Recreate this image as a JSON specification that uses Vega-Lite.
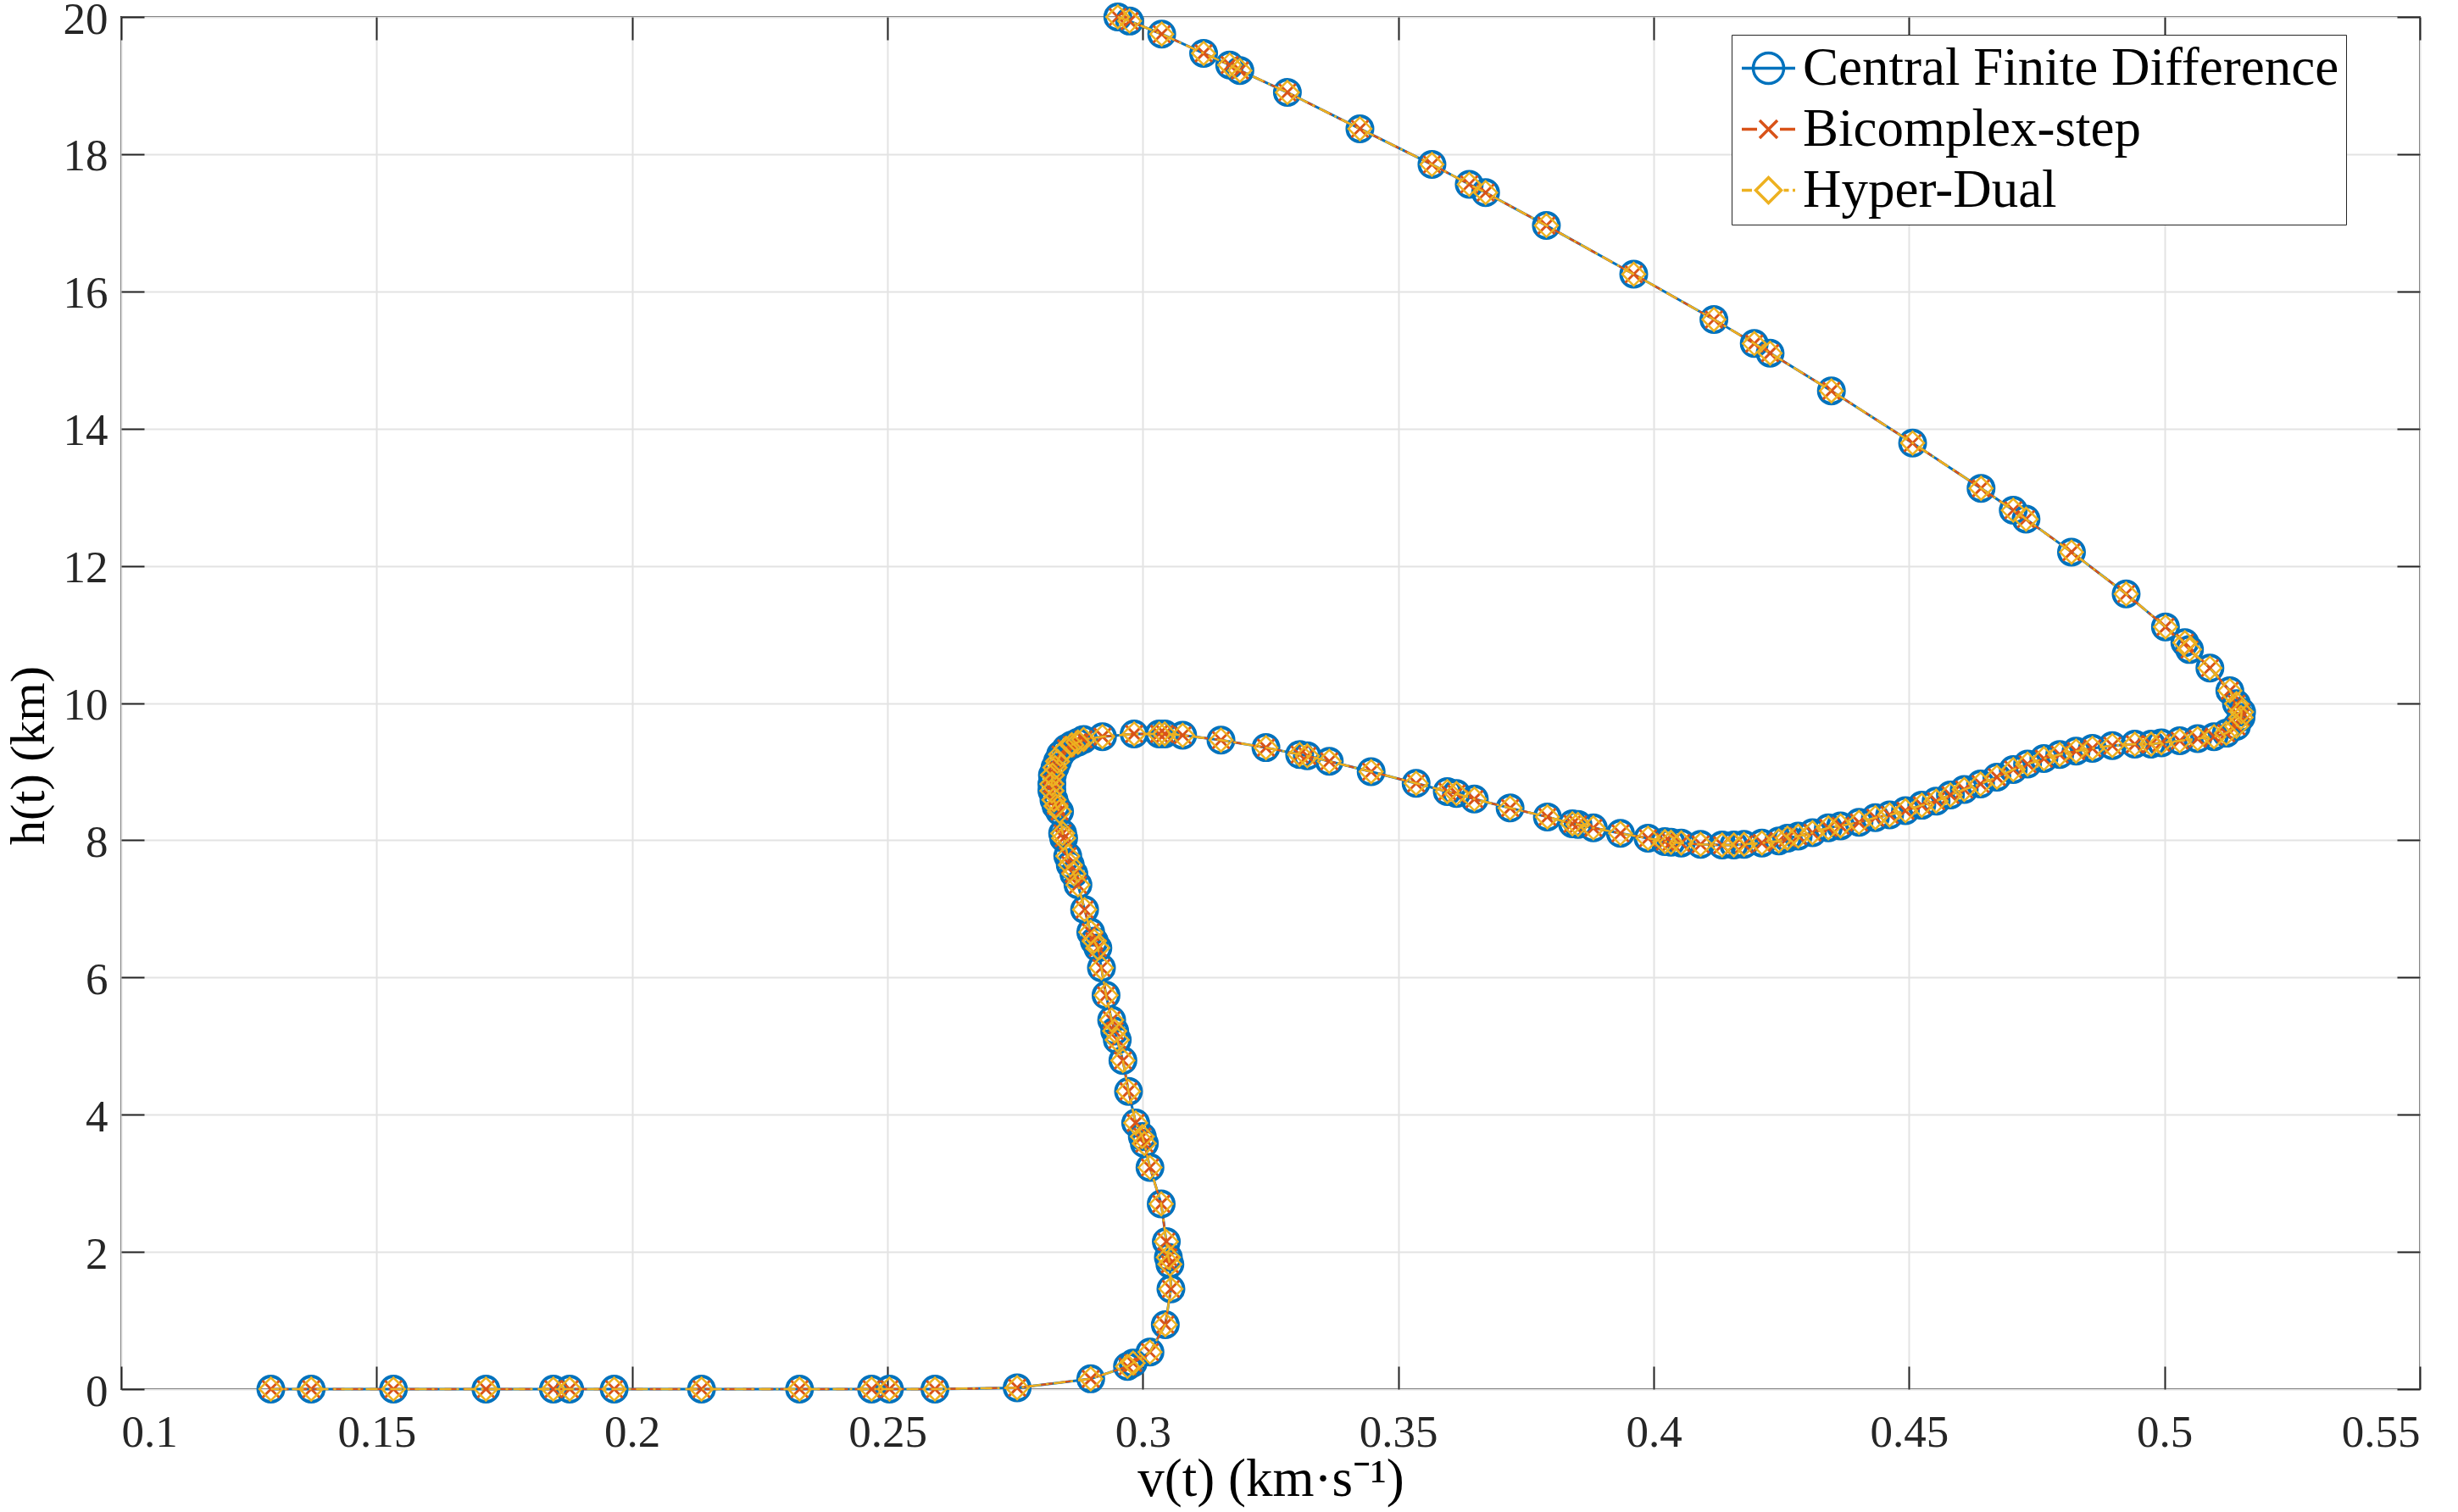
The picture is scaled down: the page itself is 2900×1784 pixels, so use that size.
{
  "$schema": "https://vega.github.io/schema/vega-lite/v6.json",
  "width": 2712,
  "height": 1619,
  "autosize": {"type": "none"},
  "padding": {"left": 143, "top": 20, "right": 45, "bottom": 145},
  "background": "white",
  "data": {
    "values": [
      {"i": 1, "v": 0.2951, "h": 20.0},
      {"i": 2, "v": 0.2974, "h": 19.94},
      {"i": 3, "v": 0.3037, "h": 19.75},
      {"i": 4, "v": 0.3119, "h": 19.47},
      {"i": 5, "v": 0.317, "h": 19.3},
      {"i": 6, "v": 0.319, "h": 19.22},
      {"i": 7, "v": 0.3283, "h": 18.9},
      {"i": 8, "v": 0.3425, "h": 18.37},
      {"i": 9, "v": 0.3566, "h": 17.85},
      {"i": 10, "v": 0.3639, "h": 17.56},
      {"i": 11, "v": 0.3671, "h": 17.44},
      {"i": 12, "v": 0.379, "h": 16.96},
      {"i": 13, "v": 0.3961, "h": 16.25},
      {"i": 14, "v": 0.4118, "h": 15.59},
      {"i": 15, "v": 0.4197, "h": 15.24},
      {"i": 16, "v": 0.4228, "h": 15.1},
      {"i": 17, "v": 0.4348, "h": 14.55},
      {"i": 18, "v": 0.4507, "h": 13.79},
      {"i": 19, "v": 0.4641, "h": 13.13},
      {"i": 20, "v": 0.4704, "h": 12.81},
      {"i": 21, "v": 0.4729, "h": 12.68},
      {"i": 22, "v": 0.4818, "h": 12.2},
      {"i": 23, "v": 0.4925, "h": 11.59},
      {"i": 24, "v": 0.5002, "h": 11.11},
      {"i": 25, "v": 0.504, "h": 10.88},
      {"i": 26, "v": 0.5049, "h": 10.78},
      {"i": 27, "v": 0.5089, "h": 10.51},
      {"i": 28, "v": 0.5128, "h": 10.18},
      {"i": 29, "v": 0.5141, "h": 9.99},
      {"i": 30, "v": 0.5151, "h": 9.87},
      {"i": 31, "v": 0.515, "h": 9.79},
      {"i": 32, "v": 0.5141, "h": 9.66},
      {"i": 33, "v": 0.5121, "h": 9.56},
      {"i": 34, "v": 0.5097, "h": 9.51},
      {"i": 35, "v": 0.5065, "h": 9.48},
      {"i": 36, "v": 0.503, "h": 9.45},
      {"i": 37, "v": 0.4994, "h": 9.42},
      {"i": 38, "v": 0.4974, "h": 9.4},
      {"i": 39, "v": 0.4942, "h": 9.4},
      {"i": 40, "v": 0.4898, "h": 9.38},
      {"i": 41, "v": 0.4859, "h": 9.34},
      {"i": 42, "v": 0.4827, "h": 9.3},
      {"i": 43, "v": 0.4795, "h": 9.25},
      {"i": 44, "v": 0.4764, "h": 9.19},
      {"i": 45, "v": 0.4732, "h": 9.11},
      {"i": 46, "v": 0.4704, "h": 9.03},
      {"i": 47, "v": 0.4672, "h": 8.92},
      {"i": 48, "v": 0.464, "h": 8.82},
      {"i": 49, "v": 0.4608, "h": 8.74},
      {"i": 50, "v": 0.4581, "h": 8.66},
      {"i": 51, "v": 0.4553, "h": 8.57},
      {"i": 52, "v": 0.4525, "h": 8.51},
      {"i": 53, "v": 0.4493, "h": 8.43},
      {"i": 54, "v": 0.4462, "h": 8.37},
      {"i": 55, "v": 0.4434, "h": 8.33},
      {"i": 56, "v": 0.4402, "h": 8.26},
      {"i": 57, "v": 0.4366, "h": 8.21},
      {"i": 58, "v": 0.4342, "h": 8.18},
      {"i": 59, "v": 0.4311, "h": 8.11},
      {"i": 60, "v": 0.4283, "h": 8.06},
      {"i": 61, "v": 0.4262, "h": 8.03},
      {"i": 62, "v": 0.4245, "h": 7.99},
      {"i": 63, "v": 0.4212, "h": 7.96},
      {"i": 64, "v": 0.4177, "h": 7.94},
      {"i": 65, "v": 0.4157, "h": 7.93},
      {"i": 66, "v": 0.4134, "h": 7.93},
      {"i": 67, "v": 0.4092, "h": 7.94},
      {"i": 68, "v": 0.4054, "h": 7.96},
      {"i": 69, "v": 0.4034, "h": 7.97},
      {"i": 70, "v": 0.4022, "h": 7.98},
      {"i": 71, "v": 0.3989, "h": 8.03},
      {"i": 72, "v": 0.3935, "h": 8.1},
      {"i": 73, "v": 0.3882, "h": 8.18},
      {"i": 74, "v": 0.3852, "h": 8.23},
      {"i": 75, "v": 0.3841, "h": 8.24},
      {"i": 76, "v": 0.3792, "h": 8.34},
      {"i": 77, "v": 0.3719, "h": 8.47},
      {"i": 78, "v": 0.3649, "h": 8.6},
      {"i": 79, "v": 0.3614, "h": 8.68},
      {"i": 80, "v": 0.3596, "h": 8.71},
      {"i": 81, "v": 0.3535, "h": 8.83},
      {"i": 82, "v": 0.3447, "h": 9.0},
      {"i": 83, "v": 0.3365, "h": 9.15},
      {"i": 84, "v": 0.3322, "h": 9.23},
      {"i": 85, "v": 0.3307, "h": 9.25},
      {"i": 86, "v": 0.3241, "h": 9.35},
      {"i": 87, "v": 0.3153, "h": 9.46},
      {"i": 88, "v": 0.3078, "h": 9.53},
      {"i": 89, "v": 0.3043, "h": 9.55},
      {"i": 90, "v": 0.3032, "h": 9.55},
      {"i": 91, "v": 0.2983, "h": 9.55},
      {"i": 92, "v": 0.2921, "h": 9.51},
      {"i": 93, "v": 0.2884, "h": 9.47},
      {"i": 94, "v": 0.2873, "h": 9.43},
      {"i": 95, "v": 0.2861, "h": 9.39},
      {"i": 96, "v": 0.285, "h": 9.34},
      {"i": 97, "v": 0.2839, "h": 9.25},
      {"i": 98, "v": 0.2833, "h": 9.15},
      {"i": 99, "v": 0.2828, "h": 9.06},
      {"i": 100, "v": 0.2823, "h": 8.95},
      {"i": 101, "v": 0.2822, "h": 8.82},
      {"i": 102, "v": 0.2822, "h": 8.72},
      {"i": 103, "v": 0.2826, "h": 8.59},
      {"i": 104, "v": 0.283, "h": 8.5},
      {"i": 105, "v": 0.2837, "h": 8.42},
      {"i": 106, "v": 0.2843, "h": 8.1},
      {"i": 107, "v": 0.2845, "h": 8.03},
      {"i": 108, "v": 0.2853, "h": 7.77},
      {"i": 109, "v": 0.2858, "h": 7.64},
      {"i": 110, "v": 0.2865, "h": 7.51},
      {"i": 111, "v": 0.2873, "h": 7.35},
      {"i": 112, "v": 0.2886, "h": 6.99},
      {"i": 113, "v": 0.2898, "h": 6.66},
      {"i": 114, "v": 0.2905, "h": 6.53},
      {"i": 115, "v": 0.2912, "h": 6.43},
      {"i": 116, "v": 0.2919, "h": 6.14},
      {"i": 117, "v": 0.2928, "h": 5.74},
      {"i": 118, "v": 0.2939, "h": 5.38},
      {"i": 119, "v": 0.2945, "h": 5.22},
      {"i": 120, "v": 0.295, "h": 5.09},
      {"i": 121, "v": 0.2961, "h": 4.79},
      {"i": 122, "v": 0.2972, "h": 4.34},
      {"i": 123, "v": 0.2986, "h": 3.88},
      {"i": 124, "v": 0.2999, "h": 3.68},
      {"i": 125, "v": 0.3003, "h": 3.58},
      {"i": 126, "v": 0.3014, "h": 3.23},
      {"i": 127, "v": 0.3036, "h": 2.7},
      {"i": 128, "v": 0.3046, "h": 2.15},
      {"i": 129, "v": 0.305, "h": 1.92},
      {"i": 130, "v": 0.3053, "h": 1.82},
      {"i": 131, "v": 0.3055, "h": 1.46},
      {"i": 132, "v": 0.3044, "h": 0.94},
      {"i": 133, "v": 0.3014, "h": 0.54},
      {"i": 134, "v": 0.2981, "h": 0.38},
      {"i": 135, "v": 0.297, "h": 0.33},
      {"i": 136, "v": 0.2898, "h": 0.15},
      {"i": 137, "v": 0.2754, "h": 0.02},
      {"i": 138, "v": 0.2593, "h": 0.0},
      {"i": 139, "v": 0.2504, "h": 0.0},
      {"i": 140, "v": 0.2469, "h": 0.0},
      {"i": 141, "v": 0.2328, "h": 0.0},
      {"i": 142, "v": 0.2136, "h": 0.0},
      {"i": 143, "v": 0.1965, "h": 0.0},
      {"i": 144, "v": 0.1878, "h": 0.0},
      {"i": 145, "v": 0.1846, "h": 0.0},
      {"i": 146, "v": 0.1714, "h": 0.0},
      {"i": 147, "v": 0.1533, "h": 0.0},
      {"i": 148, "v": 0.1372, "h": 0.0},
      {"i": 149, "v": 0.1293, "h": 0.0}
    ]
  },
  "layer": [
    {
      "mark": {"type": "line", "color": "#0072BD", "strokeWidth": 3},
      "encoding": {
        "x": {
          "field": "v", "type": "quantitative",
          "scale": {"domain": [0.1, 0.55], "nice": false, "zero": false},
          "axis": {
            "orient": "bottom",
            "values": [0.1, 0.15, 0.2, 0.25, 0.3, 0.35, 0.4, 0.45, 0.5, 0.55],
            "format": "~g",
            "title": "v(t)  (km·s⁻¹)",
            "labelFont": "Liberation Serif",
            "labelFontSize": 53,
            "labelPadding": 52,
            "titleFont": "Liberation Serif",
            "titleFontSize": 63,
            "titlePadding": -3,
            "grid": true
          }
        },
        "y": {
          "field": "h", "type": "quantitative",
          "scale": {"domain": [0, 20], "nice": false, "zero": false},
          "axis": {
            "orient": "left",
            "values": [0, 2, 4, 6, 8, 10, 12, 14, 16, 18, 20],
            "format": "d",
            "title": "h(t)  (km)",
            "labelFont": "Liberation Serif",
            "labelFontSize": 53,
            "labelBaseline": "alphabetic",
            "labelOffset": 19,
            "labelPadding": 43,
            "titleFont": "Liberation Serif",
            "titleFontSize": 58,
            "titleAngle": 270,
            "titleBaseline": "bottom",
            "titleX": -80,
            "titleY": 871,
            "grid": true
          }
        },
        "order": {"field": "i", "type": "quantitative"}
      }
    },
    {
      "mark": {"type": "point", "filled": false, "shape": "circle", "size": 900, "strokeWidth": 4, "opacity": 1},
      "encoding": {
        "x": {"field": "v", "type": "quantitative", "axis": null},
        "y": {"field": "h", "type": "quantitative", "axis": null},
        "color": {
          "datum": "Central Finite Difference",
          "type": "nominal",
          "scale": {
            "domain": ["Central Finite Difference", "Bicomplex-step", "Hyper-Dual"],
            "range": ["#0072BD", "#D95319", "#EDB120"]
          },
          "legend": {
            "title": null,
            "orient": "none",
            "legendX": 1900,
            "legendY": 21,
            "fillColor": "white",
            "strokeColor": "#262626",
            "padding": 8,
            "symbolOffset": 4,
            "labelOffset": 9,
            "labelFont": "Liberation Serif",
            "labelFontSize": 63,
            "labelColor": "#000000",
            "labelLimit": 1000,
            "rowPadding": 8,
            "symbolSize": 900,
            "symbolStrokeWidth": 3.5,
            "symbolType": {"expr": "datum.value === 'Central Finite Difference' ? 'M1.2,0A1.2,1.2,0,1,1,-1.2,0A1.2,1.2,0,1,1,1.2,0M-2.1,0L2.1,0' : datum.value === 'Bicomplex-step' ? 'M-2.1,0L-0.9,0M0.9,0L2.1,0M-0.7,-0.7L0.7,0.7M-0.7,0.7L0.7,-0.7' : 'M-2.1,0L-1.3,0M1.2,0L1.6,0M1.9,0L2.1,0M0,-1L1,0L0,1L-1,0Z'"}
          }
        }
      }
    },
    {
      "mark": {"type": "line", "color": "#D95319", "strokeWidth": 2.5, "strokeDash": [14, 8]},
      "encoding": {
        "x": {
          "field": "v", "type": "quantitative",
          "axis": {"orient": "top", "values": [0.1, 0.15, 0.2, 0.25, 0.3, 0.35, 0.4, 0.45, 0.5, 0.55], "labels": false, "title": null, "grid": false, "domain": false}
        },
        "y": {
          "field": "h", "type": "quantitative",
          "axis": {"orient": "right", "values": [0, 2, 4, 6, 8, 10, 12, 14, 16, 18, 20], "labels": false, "title": null, "grid": false, "domain": false}
        },
        "order": {"field": "i", "type": "quantitative"}
      }
    },
    {
      "mark": {"type": "point", "filled": false, "shape": "M-1,-1L1,1M-1,1L1,-1", "size": 400, "strokeWidth": 3, "color": "#D95319", "opacity": 1},
      "encoding": {
        "x": {"field": "v", "type": "quantitative", "axis": null},
        "y": {"field": "h", "type": "quantitative", "axis": null}
      }
    },
    {
      "mark": {"type": "line", "color": "#EDB120", "strokeWidth": 2.5, "strokeDash": [14, 6, 3, 6]},
      "encoding": {
        "x": {"field": "v", "type": "quantitative", "axis": null},
        "y": {"field": "h", "type": "quantitative", "axis": null},
        "order": {"field": "i", "type": "quantitative"}
      }
    },
    {
      "mark": {"type": "point", "filled": false, "shape": "diamond", "size": 729, "strokeWidth": 2.5, "color": "#EDB120", "opacity": 1},
      "encoding": {
        "x": {"field": "v", "type": "quantitative", "axis": null},
        "y": {"field": "h", "type": "quantitative", "axis": null}
      }
    }
  ],
  "resolve": {"axis": {"x": "independent", "y": "independent"}},
  "config": {
    "view": {"stroke": "#262626", "strokeWidth": 2},
    "axis": {
      "domain": false,
      "tickColor": "#262626",
      "tickWidth": 2,
      "tickSize": -27,
      "gridColor": "#E3E3E3",
      "gridWidth": 2,
      "labelFont": "Liberation Serif",
      "labelFontSize": 53,
      "labelColor": "#262626",
      "titleFont": "Liberation Serif",
      "titleFontSize": 63,
      "titleFontWeight": "normal",
      "titleColor": "#000000"
    }
  }
}
